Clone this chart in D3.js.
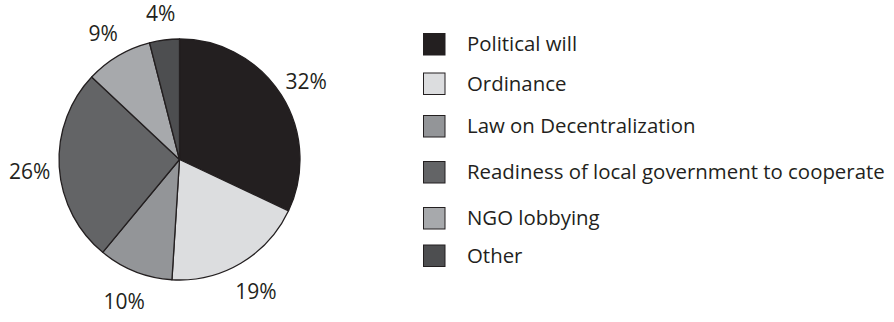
<!DOCTYPE html>
<html>
<head>
<meta charset="utf-8">
<script src="https://cdn.jsdelivr.net/npm/d3@7"></script>
<style>
  html, body { margin: 0; padding: 0; background: #fff; }
  svg { display: block; }
  text { font-family: "Open Sans", "Noto Sans", sans-serif; fill: #231f20; font-weight: 500; }
</style>
</head>
<body>
<svg id="chart" width="894" height="322"></svg>
<script>
// Factors named as contributing to decentralization (share of responses, %)
const categories = [
  "Political will",
  "Ordinance",
  "Law on Decentralization",
  "Readiness of local government to cooperate",
  "NGO lobbying",
  "Other"
];
const values = [32, 19, 10, 26, 9, 4];
const colors = ["#231f20", "#dcdddf", "#939598", "#636466", "#a7a9ac", "#4d4e50"];

const svg = d3.select("#chart");
const cx = 179.5, cy = 159.5, radius = 120.5, labelRadius = 150;

const data = categories.map((name, i) => ({ name, value: values[i], color: colors[i] }));

const pie = d3.pie().value(d => d.value).sort(null);
const arcs = pie(data);
const arc = d3.arc().innerRadius(0).outerRadius(radius);
const labelArc = d3.arc().innerRadius(labelRadius).outerRadius(labelRadius);

const g = svg.append("g").attr("transform", `translate(${cx},${cy})`);

g.selectAll("path.slice")
  .data(arcs)
  .join("path")
  .attr("class", "slice")
  .attr("d", arc)
  .attr("fill", d => d.data.color)
  .attr("stroke", "#231f20")
  .attr("stroke-width", 1.3)
  .attr("stroke-linejoin", "round");

// Percent labels around the rim
g.selectAll("text.pct")
  .data(arcs)
  .join("text")
  .attr("class", "pct")
  .attr("transform", d => {
    const [x, y] = labelArc.centroid(d);
    return `translate(${x},${y + 3})`;
  })
  .attr("text-anchor", "middle")
  .attr("dy", "0.35em")
  .style("font-size", "21px")
  .text(d => `${d.data.value}%`);

// Legend
const legendX = 423, legendRows = [44, 83.5, 126, 172, 218, 255.5];
const legend = svg.append("g");
const items = legend.selectAll("g.item")
  .data(data)
  .join("g")
  .attr("class", "item")
  .attr("transform", (d, i) => `translate(${legendX},${legendRows[i]})`);

items.append("rect")
  .attr("x", 0.5).attr("y", -10.5)
  .attr("width", 21.5).attr("height", 21.5)
  .attr("fill", d => d.color)
  .attr("stroke", "#231f20")
  .attr("stroke-width", 1);

items.append("text")
  .attr("x", 44)
  .attr("dy", "0.36em")
  .style("font-size", "20.4px")
  .text(d => d.name);
</script>
</body>
</html>
